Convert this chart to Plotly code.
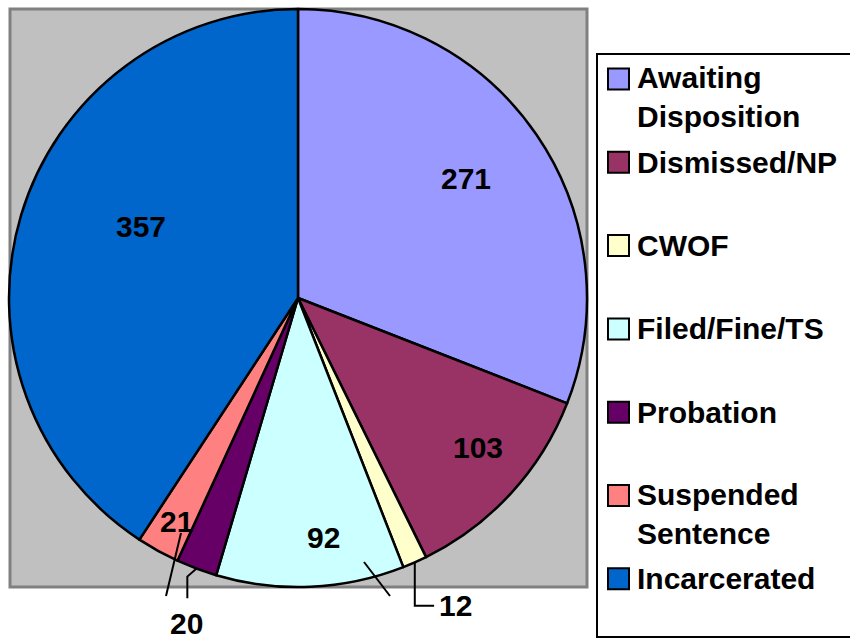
import math
import plotly.graph_objects as go

# data
categories = ["Awaiting Disposition", "Dismissed/NP", "CWOF", "Filed/Fine/TS",
              "Probation", "Suspended Sentence", "Incarcerated"]
legend_text = ["Awaiting<br>Disposition", "Dismissed/NP", "CWOF", "Filed/Fine/TS",
               "Probation", "Suspended<br>Sentence", "Incarcerated"]
counts = [271, 103, 12, 92, 20, 21, 357]
colors = ["#9999FF", "#993366", "#FFFFCC", "#CCFFFF", "#660066", "#FF8080", "#0066CC"]

# label placement (fraction of radius, angle nudge in degrees)
label_r = [0.714, 0.81, 1.196, 0.835, 1.19, 0.88, 0.596]
label_nudge = [-1.2, -2.7, -3.2, -3.7, -1.6, -0.5, 7.7]

W, H = 850, 639
CX, CY, R = 298, 298, 289
FONT = "Arial, Liberation Sans, sans-serif"
FS = 30


def X(x):
    return x / W


def Y(y):
    return 1 - y / H


fig = go.Figure()
fig.add_trace(go.Pie(
    labels=categories, values=counts, sort=False, direction="clockwise",
    rotation=0, textinfo="none", hoverinfo="label+value",
    marker=dict(colors=colors, line=dict(color="black", width=2.5)),
    domain=dict(x=[X(CX - R), X(CX + R)], y=[Y(CY + R), Y(CY - R)]),
))

shapes = []
annotations = []

# gray plot area
shapes.append(dict(type="rect", xref="paper", yref="paper", layer="below",
                   x0=X(10), x1=X(587), y0=Y(587), y1=Y(9),
                   fillcolor="#C0C0C0", line=dict(color="#808080", width=3)))

# slice labels
total = sum(counts)
cum = 0
mids = []
for i, v in enumerate(counts):
    mid = (cum + v / 2) / total * 360
    cum += v
    mids.append(mid)
    th = math.radians(mid + label_nudge[i])
    lx = CX + label_r[i] * R * math.sin(th)
    ly = CY - label_r[i] * R * math.cos(th)
    annotations.append(dict(x=X(lx), y=Y(ly), xref="paper", yref="paper",
                            text=str(v), showarrow=False,
                            xanchor="center", yanchor="middle",
                            font=dict(family=FONT, size=FS, color="black", weight="bold")))


def edge(i):
    th = math.radians(mids[i])
    return CX + R * math.sin(th), CY - R * math.cos(th)


def lab(i):
    th = math.radians(mids[i] + label_nudge[i])
    return CX + label_r[i] * R * math.sin(th), CY - label_r[i] * R * math.cos(th)


def path(pts):
    return "M " + " L ".join(f"{X(a):.5f},{Y(b):.5f}" for a, b in pts)


line_style = dict(color="black", width=2)
# leader for "12"
sx, sy = edge(2)
lx, ly = lab(2)
shapes.append(dict(type="path", xref="paper", yref="paper",
                   path=path([(sx, sy), (sx, ly), (lx - 21, ly)]), line=line_style))
# leader for "20"
sx, sy = edge(4)
lx, ly = lab(4)
shapes.append(dict(type="path", xref="paper", yref="paper",
                   path=path([(sx, sy), (lx + 1, sy + 8), (lx + 1, ly - 25)]), line=line_style))
# stray leader strokes
for (x0, y0, x1, y1) in [(181, 533, 166, 596), (364, 562, 390, 596)]:
    shapes.append(dict(type="line", xref="paper", yref="paper",
                       x0=X(x0), y0=Y(y0), x1=X(x1), y1=Y(y1), line=line_style))

# legend box
shapes.append(dict(type="rect", xref="paper", yref="paper", layer="below",
                   x0=X(597), x1=X(880), y0=Y(637), y1=Y(54),
                   fillcolor="white", line=dict(color="black", width=2)))
LINE_H = 37
for i, (t, c) in enumerate(zip(legend_text, colors)):
    yc = 79 + i * 83.3
    shapes.append(dict(type="rect", xref="paper", yref="paper",
                       x0=X(608), x1=X(629), y0=Y(yc + 10.5), y1=Y(yc - 10.5),
                       fillcolor=c, line=dict(color="black", width=2)))
    n = t.count("<br>")
    annotations.append(dict(x=X(635), y=Y(yc + n * LINE_H / 2), xref="paper", yref="paper",
                            text=t, showarrow=False, align="left",
                            xanchor="left", yanchor="middle",
                            font=dict(family=FONT, size=FS, color="black", weight="bold")))

fig.update_layout(
    width=W, height=H, margin=dict(l=0, r=0, t=0, b=0),
    paper_bgcolor="white", plot_bgcolor="white",
    showlegend=False, shapes=shapes, annotations=annotations,
)

# drop the default page margin so the figure sits at the window's top-left corner
fig.write_html("out.html", config={"displayModeBar": False},
               post_script="document.body.style.margin='0';")
